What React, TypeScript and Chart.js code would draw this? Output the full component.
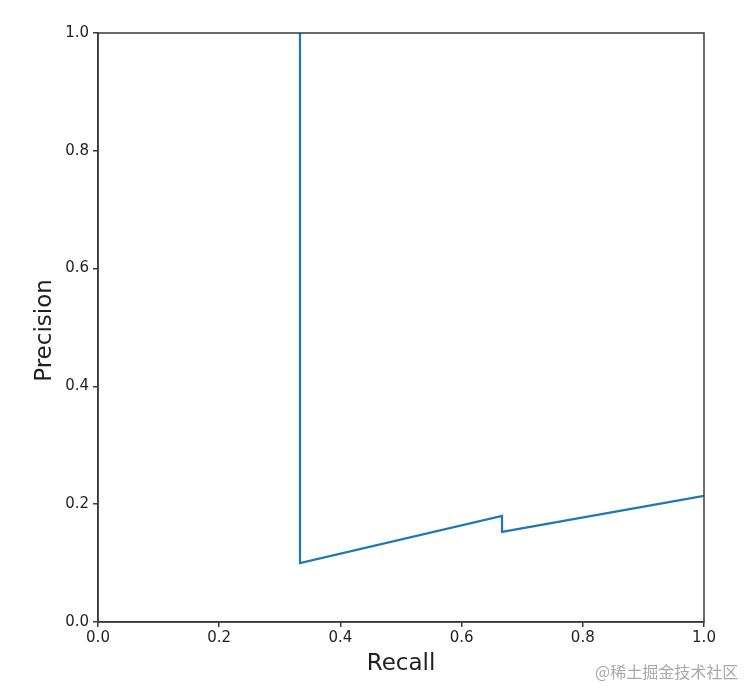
import React, { useEffect, useRef } from "react";
import { Chart, registerables } from "chart.js";

Chart.register(...registerables);

const recall = [0.3333, 0.3333, 0.6667, 0.6667, 1.0];
const precision = [1.0, 0.1, 0.18, 0.153, 0.214];
const tickValues = [0, 0.2, 0.4, 0.6, 0.8, 1.0];
const xTitle = "Recall";
const yTitle = "Precision";
const watermark = "@稀土掘金技术社区";

const FONT = "'DejaVu Sans', sans-serif";
const AXIS_COLOR = "#3a3a3a";
const TEXT_COLOR = "#1f1f1f";

const boxPlugin = {
  id: "boxPlugin",
  afterDraw(chart: any) {
    const { ctx, chartArea } = chart;
    ctx.save();
    ctx.strokeStyle = AXIS_COLOR;
    ctx.lineWidth = 1.5;
    ctx.strokeRect(chartArea.left, chartArea.top, chartArea.right - chartArea.left, chartArea.bottom - chartArea.top);
    ctx.fillStyle = TEXT_COLOR;
    ctx.font = `23px ${FONT}`;
    ctx.textAlign = "center";
    ctx.textBaseline = "middle";
    ctx.fillText(xTitle, (chartArea.left + chartArea.right) / 2, chartArea.bottom + 42);
    ctx.translate(chartArea.left - 53, (chartArea.top + chartArea.bottom) / 2 + 3);
    ctx.rotate(-Math.PI / 2);
    ctx.fillText(yTitle, 0, 0);
    ctx.restore();
  },
};

export default function App() {
  const ref = useRef<HTMLCanvasElement | null>(null);
  useEffect(() => {
    if (!ref.current) return;
    const chart = new Chart(ref.current, {
      type: "scatter",
      data: {
        datasets: [
          {
            data: recall.map((r, i) => ({ x: r, y: precision[i] })),
            showLine: true,
            borderColor: "#1f77b4",
            backgroundColor: "#1f77b4",
            borderWidth: 2.2,
            pointRadius: 0,
            tension: 0,
          },
        ],
      },
      options: {
        animation: false,
        responsive: false,
        maintainAspectRatio: false,
        layout: { padding: { top: 33, right: 52, left: 0, bottom: 0 } },
        plugins: { legend: { display: false }, tooltip: { enabled: false } },
        scales: {
          x: {
            type: "linear",
            min: 0,
            max: 1,
            afterBuildTicks: (s: any) => {
              s.ticks = tickValues.map((v) => ({ value: v }));
            },
            afterFit: (s: any) => {
              s.height = 78;
            },
            ticks: {
              color: TEXT_COLOR,
              font: { family: FONT, size: 15 },
              padding: 2,
              callback: (v: any) => Number(v).toFixed(1),
            },
            grid: { drawOnChartArea: false, drawTicks: true, tickLength: 5, color: AXIS_COLOR, lineWidth: 1.5 },
            border: { display: true, color: AXIS_COLOR, width: 1.5 },
          },
          y: {
            type: "linear",
            min: 0,
            max: 1,
            afterBuildTicks: (s: any) => {
              s.ticks = tickValues.map((v) => ({ value: v }));
            },
            afterFit: (s: any) => {
              s.width = 98;
            },
            ticks: {
              color: TEXT_COLOR,
              font: { family: FONT, size: 15 },
              padding: 4,
              callback: (v: any) => Number(v).toFixed(1),
            },
            grid: { drawOnChartArea: false, drawTicks: true, tickLength: 5, color: AXIS_COLOR, lineWidth: 1.5 },
            border: { display: true, color: AXIS_COLOR, width: 1.5 },
          },
        },
      },
      plugins: [boxPlugin],
    });
    return () => chart.destroy();
  }, []);
  return (
    <div style={{ position: "fixed", left: 0, top: 0, width: 756, height: 700, background: "#fff" }}>
      <canvas ref={ref} width={756} height={700} style={{ width: 756, height: 700, display: "block" }} />
      <div
        style={{
          position: "absolute",
          left: 595,
          top: 659,
          fontFamily: "'Noto Sans CJK SC', sans-serif",
          fontSize: 16,
          color: "#a8a8a8",
          whiteSpace: "nowrap",
        }}
      >
        {watermark}
      </div>
    </div>
  );
}
